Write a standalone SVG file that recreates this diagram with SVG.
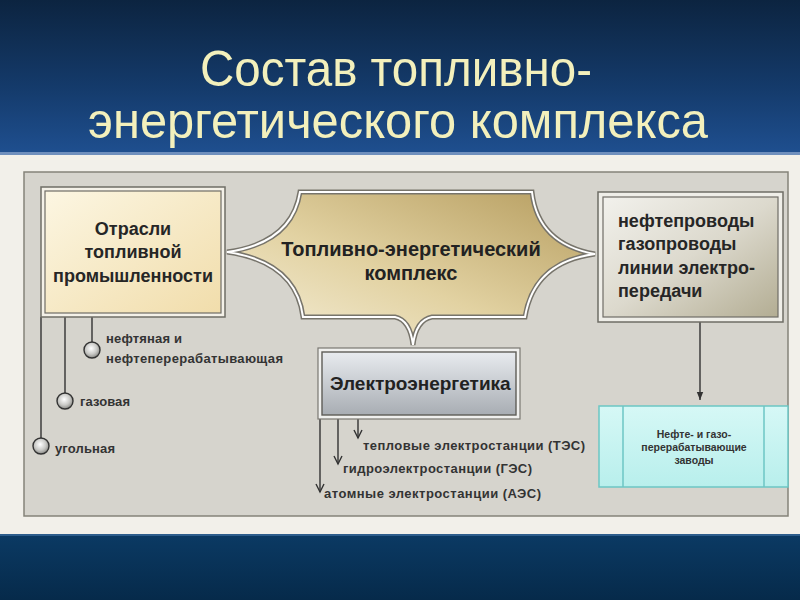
<svg xmlns="http://www.w3.org/2000/svg" width="800" height="600" viewBox="0 0 800 600">
<defs>
  <linearGradient id="topBlue" x1="0" y1="0" x2="0" y2="1">
    <stop offset="0" stop-color="#0c2440"/>
    <stop offset="0.55" stop-color="#143a6a"/>
    <stop offset="1" stop-color="#1f5091"/>
  </linearGradient>
  <linearGradient id="botBlue" x1="0" y1="0" x2="0" y2="1">
    <stop offset="0" stop-color="#0b3a64"/>
    <stop offset="1" stop-color="#062a4a"/>
  </linearGradient>
  <linearGradient id="yellowBox" x1="0" y1="0" x2="1" y2="1">
    <stop offset="0" stop-color="#fcf6e2"/>
    <stop offset="1" stop-color="#f1ddab"/>
  </linearGradient>
  <linearGradient id="goldStar" x1="1" y1="0" x2="0" y2="1">
    <stop offset="0" stop-color="#b59c5e"/>
    <stop offset="0.55" stop-color="#e2d2a2"/>
    <stop offset="1" stop-color="#f6f0dc"/>
  </linearGradient>
  <linearGradient id="grayBox" x1="0" y1="0" x2="1" y2="1">
    <stop offset="0" stop-color="#f2f1ec"/>
    <stop offset="0.5" stop-color="#dcd9cd"/>
    <stop offset="1" stop-color="#b3ad93"/>
  </linearGradient>
  <linearGradient id="silverBox" x1="0" y1="0" x2="0" y2="1">
    <stop offset="0" stop-color="#e8ebef"/>
    <stop offset="1" stop-color="#a8adb3"/>
  </linearGradient>
  <linearGradient id="cyanBox" x1="0" y1="0" x2="0" y2="1">
    <stop offset="0" stop-color="#d6f8f6"/>
    <stop offset="1" stop-color="#b8efec"/>
  </linearGradient>
  <radialGradient id="ball" cx="0.45" cy="0.4" r="0.6">
    <stop offset="0" stop-color="#ffffff"/>
    <stop offset="0.6" stop-color="#c9c9c6"/>
    <stop offset="1" stop-color="#8a8a86"/>
  </radialGradient>
  <marker id="filled" viewBox="0 0 10 10" refX="10" refY="5" markerWidth="8" markerHeight="8" markerUnits="userSpaceOnUse" orient="auto">
    <path d="M0,1 L10,5 L0,9 Z" fill="#333"/>
  </marker>
</defs>
<style>
  .title { font-family: "Liberation Sans", Arial, sans-serif; font-size: 50px; fill: #f3f0bc; }
  .big { font-family: "Liberation Sans", Arial, sans-serif; font-weight: bold; font-size: 18px; fill: #262626; }
  .mid { font-family: "Liberation Sans", Arial, sans-serif; font-weight: bold; font-size: 20px; fill: #222; }
  .small { font-family: "Liberation Sans", Arial, sans-serif; font-weight: bold; font-size: 13px; fill: #333; }
  .tiny { font-family: "Liberation Sans", Arial, sans-serif; font-weight: bold; font-size: 10.5px; fill: #333; }
  .line { stroke: #333; stroke-width: 1.4; fill: none; }
  .chev { stroke: #333; stroke-width: 1.4; fill: none; }
</style>

<!-- backgrounds -->
<rect x="0" y="0" width="800" height="156" fill="url(#topBlue)"/>
<rect x="0" y="152" width="800" height="3" fill="#6f8fbd"/>
<rect x="0" y="155" width="800" height="379" fill="#f2f0ea"/>
<rect x="0" y="534" width="800" height="66" fill="url(#botBlue)"/>
<rect x="0" y="534" width="800" height="2" fill="#2d5d8c"/>

<text class="title" x="396" y="86" text-anchor="middle" textLength="392" lengthAdjust="spacingAndGlyphs">Состав топливно-</text>
<text class="title" x="398" y="138" text-anchor="middle" textLength="620" lengthAdjust="spacingAndGlyphs">энергетического комплекса</text>

<!-- panel -->
<rect x="24" y="172" width="764" height="344" fill="#d6d4cd" stroke="#858379" stroke-width="1.5"/>

<!-- connectors -->
<g id="connectors">
  <!-- left tree -->
  <line class="line" x1="41" y1="317" x2="41" y2="438"/>
  <line class="line" x1="65" y1="317" x2="65" y2="393"/>
  <line class="line" x1="92" y1="317" x2="92" y2="342"/>
  <!-- electro branches -->
  <line class="line" x1="320" y1="419" x2="320" y2="492"/>
  <path class="chev" d="M316,484 L320,492 L324,484"/>
  <line class="line" x1="338" y1="419" x2="338" y2="464"/>
  <path class="chev" d="M334,456 L338,464 L342,456"/>
  <line class="line" x1="358" y1="419" x2="358" y2="438"/>
  <path class="chev" d="M354,430 L358,438 L362,430"/>
  <!-- right box to plants -->
  <line class="line" x1="700" y1="322" x2="700" y2="400" marker-end="url(#filled)"/>
</g>

<!-- node: left box -->
<g id="node-otrasli">
  <rect x="41" y="187" width="184" height="130" fill="#f4f1e8" stroke="#6f6d66" stroke-width="1.5"/>
  <rect x="45" y="191" width="176" height="122" fill="url(#yellowBox)" stroke="#6f6d66" stroke-width="1.2"/>
  <text class="big" x="133" y="235" text-anchor="middle">Отрасли</text>
  <text class="big" x="133" y="258" text-anchor="middle">топливной</text>
  <text class="big" x="133" y="282" text-anchor="middle">промышленности</text>
</g>

<!-- node: center star -->
<g id="node-tek">
  <path d="M300,192 L532,192 Q538,244 595,254 Q534,262 525,317 L432,317 Q416,320 413,345 Q410,320 395,317 L303,317 Q296,262 227,252 Q292,243 300,192 Z" fill="url(#goldStar)" stroke="#77746b" stroke-width="5" stroke-linejoin="miter"/>
  <path d="M300,192 L532,192 Q538,244 595,254 Q534,262 525,317 L432,317 Q416,320 413,345 Q410,320 395,317 L303,317 Q296,262 227,252 Q292,243 300,192 Z" fill="none" stroke="#ffffff" stroke-width="2"/>
  <text class="mid" x="411" y="256" text-anchor="middle">Топливно-энергетический</text>
  <text class="mid" x="411" y="280" text-anchor="middle">комплекс</text>
</g>

<!-- node: right box -->
<g id="node-pipelines">
  <rect x="598" y="192" width="185" height="130" fill="#efeee8" stroke="#6f6d66" stroke-width="1.5"/>
  <rect x="603" y="197" width="175" height="120" fill="url(#grayBox)" stroke="#6f6d66" stroke-width="1.2"/>
  <text class="big" x="618" y="227">нефтепроводы</text>
  <text class="big" x="618" y="250">газопроводы</text>
  <text class="big" x="618" y="274">линии электро-</text>
  <text class="big" x="618" y="297">передачи</text>
</g>

<!-- node: electro box -->
<g id="node-electro">
  <rect x="318" y="348" width="202" height="71" fill="#f0f0ee" stroke="#7a7872" stroke-width="1.2"/>
  <rect x="322" y="352" width="194" height="63" fill="url(#silverBox)" stroke="#5e5d58" stroke-width="1.4"/>
  <text class="mid" x="330" y="390" style="font-size:19px">Электроэнергетика</text>
</g>

<!-- node: plants box -->
<g id="node-plants">
  <rect x="599" y="406" width="189" height="81" fill="url(#cyanBox)" stroke="#6cc6c4" stroke-width="1.5"/>
  <line x1="623" y1="406" x2="623" y2="487" stroke="#6cc6c4" stroke-width="1.5"/>
  <line x1="764" y1="406" x2="764" y2="487" stroke="#6cc6c4" stroke-width="1.5"/>
  <text class="tiny" x="694" y="438" text-anchor="middle">Нефте- и газо-</text>
  <text class="tiny" x="694" y="451" text-anchor="middle">перерабатывающие</text>
  <text class="tiny" x="694" y="464" text-anchor="middle">заводы</text>
</g>

<!-- leaf nodes: left -->
<g id="node-oil">
  <circle cx="92" cy="350" r="8" fill="url(#ball)" stroke="#333" stroke-width="1.4"/>
  <text class="small" x="106" y="343" textLength="76">нефтяная и</text>
  <text class="small" x="106" y="363" textLength="177">нефтеперерабатывающая</text>
</g>
<g id="node-gas">
  <circle cx="65" cy="401" r="8" fill="url(#ball)" stroke="#333" stroke-width="1.4"/>
  <text class="small" x="80" y="406" textLength="50">газовая</text>
</g>
<g id="node-coal">
  <circle cx="41" cy="446" r="8" fill="url(#ball)" stroke="#333" stroke-width="1.4"/>
  <text class="small" x="55" y="453" textLength="60">угольная</text>
</g>

<!-- leaf nodes: electro -->
<g id="node-tes">
  <text class="small" x="363" y="450" textLength="222">тепловые электростанции (ТЭС)</text>
</g>
<g id="node-ges">
  <text class="small" x="343" y="473" textLength="189">гидроэлектростанции (ГЭС)</text>
</g>
<g id="node-aes">
  <text class="small" x="324" y="498" textLength="217">атомные электростанции (АЭС)</text>
</g>
</svg>
